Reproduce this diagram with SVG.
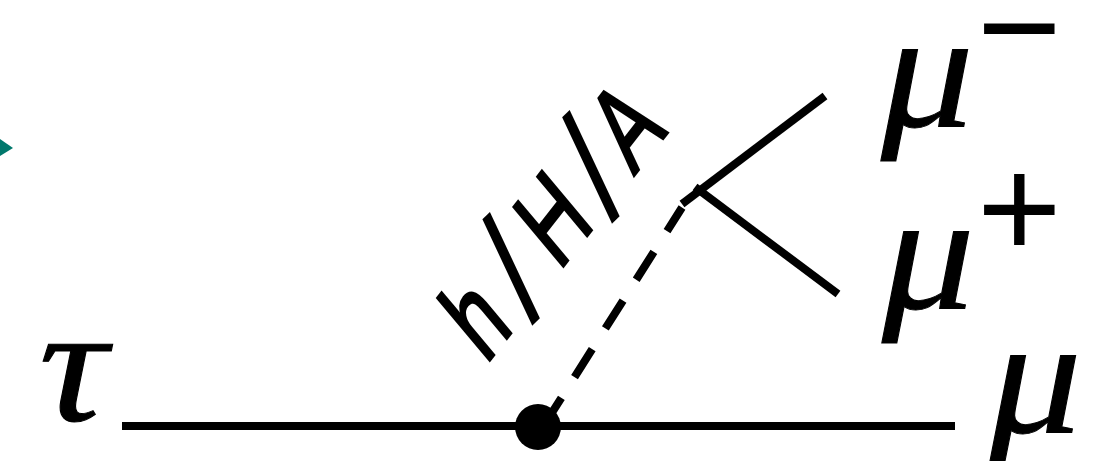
<svg xmlns="http://www.w3.org/2000/svg" width="1103" height="461" viewBox="0 0 1103 461">
<style>
.l{stroke:#000;stroke-width:8;fill:none}
.g{font-family:"Liberation Serif","DejaVu Serif",serif;font-style:italic;fill:#000;stroke:#000;stroke-width:1;font-size:165px}
.h{font-family:"Liberation Sans","DejaVu Sans",sans-serif;fill:#000}
.s{font-size:147px}
</style>
<rect width="1103" height="461" fill="#fff"/>
<polygon points="0,139 13,148 0,156" fill="#00786c"/>
<g id="connectors">
<line class="l" x1="122" y1="426" x2="955" y2="426"/>
<line class="l" x1="543.7" y1="425.7" x2="682" y2="207.5" stroke-dasharray="33 24.6"/>
<line class="l" x1="682" y1="204" x2="825" y2="96"/>
<line class="l" x1="695" y1="187" x2="838" y2="294"/>
</g>
<g id="vertex"><circle cx="538" cy="427" r="23" fill="#000"/></g>
<g id="tau"><text class="g" transform="translate(39 420) scale(1.15 1)">τ</text></g>
<g id="mu-out"><text class="g" transform="translate(989 432) scale(1.12 1)">μ</text></g>
<g id="mu-minus"><text class="g" transform="translate(881 126) scale(1.12 1)">μ</text><text class="h" x="977" y="77" font-size="145">−</text></g>
<g id="mu-plus"><text class="g" transform="translate(882 308) scale(1.12 1)">μ</text><text class="h" x="977" y="258" font-size="145">+</text></g>
<g id="label"><text class="h" transform="matrix(0.456 -0.583 0.643 0.767 486 365)" font-size="112" stroke="#000" stroke-width="3"><tspan x="0" y="0">h</tspan><tspan class="s" x="86" y="9.6" rotate="6">/</tspan><tspan x="160" y="0">H</tspan><tspan class="s" x="261" y="9.6" rotate="6">/</tspan><tspan x="324" y="0">A</tspan></text></g>
</svg>
